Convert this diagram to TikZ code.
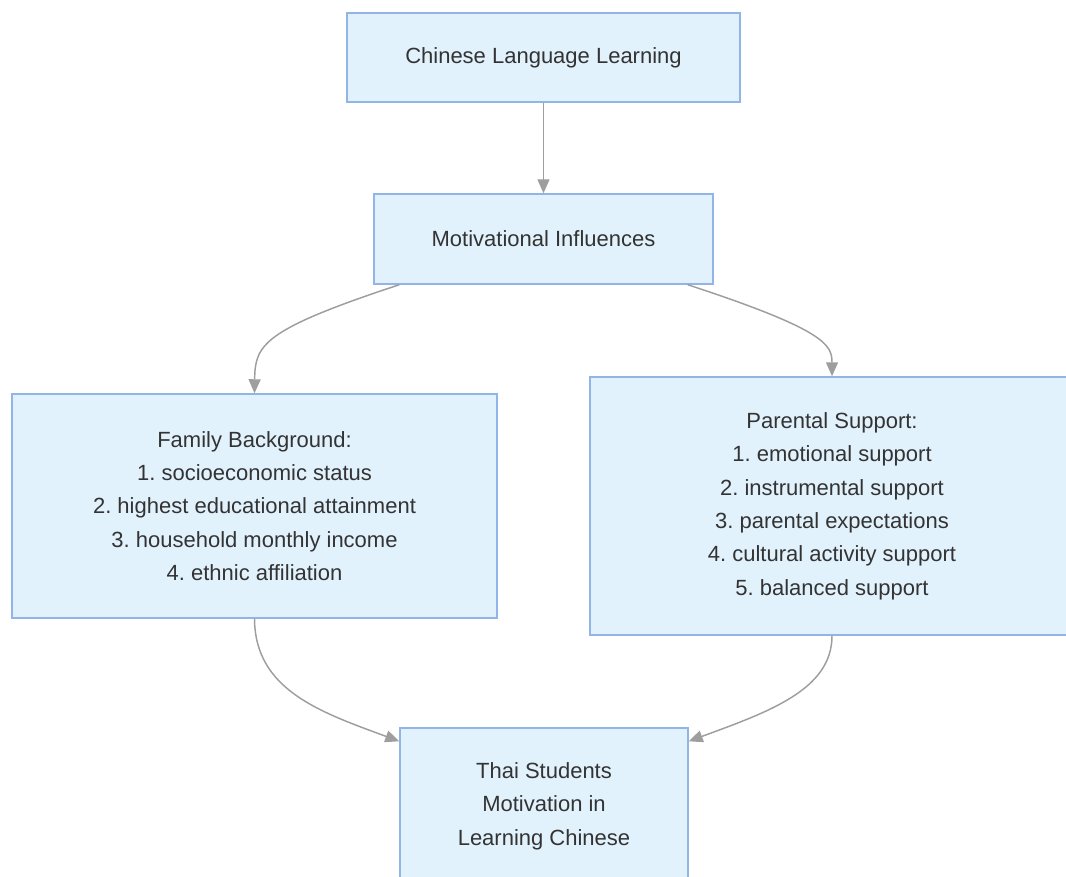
\documentclass[tikz,border=0pt]{standalone}
\usepackage{fontspec}
\setmainfont{Liberation Sans}
\usepackage{xcolor}
\usepackage{tikz}
\usetikzlibrary{arrows.meta}
\definecolor{BoxBlue}{RGB}{226,242,253}
\definecolor{EdgeBlue}{RGB}{146,180,230}
\definecolor{LinkGrey}{RGB}{158,158,158}
\definecolor{TextGrey}{RGB}{51,51,51}
\frenchspacing

\begin{document}
\begin{tikzpicture}[x=0.75pt, y=-0.75pt,
		box/.style={draw=EdgeBlue, fill=BoxBlue, line width=1.1pt, align=center, inner sep=0pt,
			text=TextGrey, font=\fontsize{16.5}{25}\selectfont},
		link/.style={draw=LinkGrey, line width=1.1pt, -{Triangle[length=10.5pt, width=9pt]}}]
		\clip (0, 0) rectangle (1066, 877);
		
		\node[box, minimum width=294.75pt, minimum height=66.75pt] (language) at (543.5, 57.5) {Chinese Language Learning};
		\node[box, minimum width=254.25pt, minimum height=67.5pt] (motiv) at (543.5, 239) {Motivational Influences};
		\node[box, minimum width=363.75pt, minimum height=168pt] (family) at (254.5, 506)
			{Family Background:\\1. socioeconomic status\\2. highest educational attainment\\3. household monthly income\\4. ethnic affiliation};
		\node[box, minimum width=363pt, minimum height=193.5pt] (parental) at (832, 506)
			{Parental Support:\\1. emotional support\\2. instrumental support\\3. parental expectations\\4. cultural activity support\\5. balanced support};
		\node[box, minimum width=216pt, minimum height=117pt] (thai) at (544, 806)
			{Thai Students\\Motivation in\\Learning Chinese};
		
		\draw[link] (language) -- (motiv);
		
		\draw[link] ([xshift=19.5pt]motiv.south west) .. controls (262, 330) and (255, 345) .. (family.north);
		\draw[link] ([xshift=-19.5pt]motiv.south east) .. controls (826, 330) and (832, 345) .. (parental.north);
		
		\draw[link] (family.south) .. controls (255, 690) and (320, 712) .. ([yshift=-10.5pt]thai.north west);
		\draw[link] (parental.south) .. controls (832, 690) and (768, 712) .. ([yshift=-10.5pt]thai.north east);
	\end{tikzpicture}
\end{document}
